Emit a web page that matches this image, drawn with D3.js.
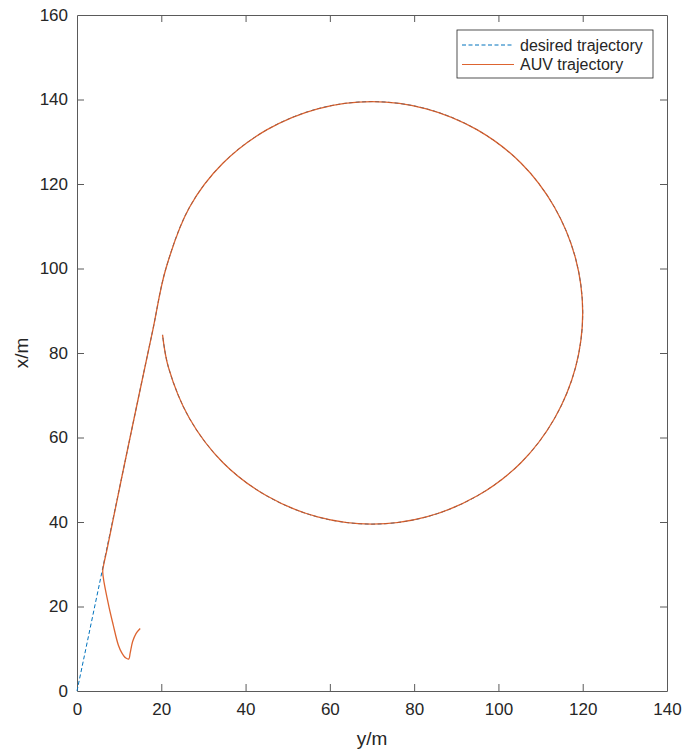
<!DOCTYPE html>
<html>
<head>
<meta charset="utf-8">
<script src="https://cdn.jsdelivr.net/npm/d3@7"></script>
<style>
  body { margin: 0; background: #fff; }
  text { font-family: "Liberation Sans", Arial, sans-serif; fill: #262626; }
</style>
</head>
<body>
<div id="chart"></div>
<script>
// horizontal axis is "y/m", vertical axis is "x/m"
var yTicks = [0, 20, 40, 60, 80, 100, 120, 140];
var xTicks = [0, 20, 40, 60, 80, 100, 120, 140, 160];

// desired trajectory (dashed): straight run then the circle
var desiredY = [0, 6.3, 10.5, 14.7, 18.0, 21.1, 26.7, 34.6, 45.0, 57.1, 70.0, 82.9, 95.0, 105.4, 113.3, 118.3, 120.0,
                118.3, 113.3, 105.4, 95.0, 82.9, 70.0, 57.1, 45.0, 34.6, 26.7, 21.7, 20.3];
var desiredX = [0, 30, 50, 70, 85.5, 100.0, 114.5, 124.9, 132.8, 137.8, 139.5, 137.8, 132.8, 124.9, 114.5, 102.4, 89.5,
                76.6, 64.5, 54.1, 46.2, 41.2, 39.5, 41.2, 46.2, 54.1, 64.5, 76.6, 84.3];

// AUV trajectory (solid)
var auvY = [15.0, 14.0, 13.2, 12.6, 12.3, 11.6, 10.6, 9.8, 8.6, 7.4, 6.1, 6.4, 7.1, 10.5, 14.7, 18.0, 21.1,
            26.7, 34.6, 45.0, 57.1, 70.0, 82.9, 95.0, 105.4, 113.3, 118.3, 120.0,
            118.3, 113.3, 105.4, 95.0, 82.9, 70.0, 57.1, 45.0, 34.6, 26.7, 21.7, 20.3];
var auvX = [14.8, 13.6, 11.7, 8.9, 7.6, 7.8, 9.1, 10.9, 15.6, 20.8, 28.2, 30.2, 33.4, 50, 70, 85.5, 100.0,
            114.5, 124.9, 132.8, 137.8, 139.5, 137.8, 132.8, 124.9, 114.5, 102.4, 89.5,
            76.6, 64.5, 54.1, 46.2, 41.2, 39.5, 41.2, 46.2, 54.1, 64.5, 76.6, 84.3];

var seriesNames = ["desired trajectory", "AUV trajectory"];
var seriesColors = ["#0072BD", "#D95319"];

var W = 685, H = 753;
var margin = {top: 15, right: 18, bottom: 62, left: 77};
var width = W - margin.left - margin.right,
    height = H - margin.top - margin.bottom;

var svg = d3.select("#chart").append("svg")
    .attr("width", W)
    .attr("height", H);

svg.append("rect").attr("width", W).attr("height", H).attr("fill", "#fff");

var g = svg.append("g")
    .attr("transform", `translate(${margin.left},${margin.top})`);

var x = d3.scaleLinear().domain([0, 140]).range([0, width]);
var y = d3.scaleLinear().domain([0, 160]).range([height, 0]);

var axisColor = "#5a5a5a";
var tickLen = 7;

// bottom / top axes
var bottomAxis = g.append("g")
    .attr("transform", `translate(0,${height})`)
    .call(d3.axisBottom(x).tickValues(yTicks).tickSize(-tickLen).tickSizeOuter(0).tickPadding(12));
var topAxis = g.append("g")
    .call(d3.axisTop(x).tickValues(yTicks).tickSize(-tickLen).tickSizeOuter(0).tickFormat(""));
var leftAxis = g.append("g")
    .call(d3.axisLeft(y).tickValues(xTicks).tickSize(-tickLen).tickSizeOuter(0).tickPadding(9));
var rightAxis = g.append("g")
    .attr("transform", `translate(${width},0)`)
    .call(d3.axisRight(y).tickValues(xTicks).tickSize(-tickLen).tickSizeOuter(0).tickFormat(""));

[bottomAxis, topAxis, leftAxis, rightAxis].forEach(function(a) {
  a.selectAll("path").attr("stroke", axisColor);
  a.selectAll("line").attr("stroke", axisColor);
  a.selectAll("text").attr("font-size", 17).attr("fill", "#262626")
    .attr("font-family", "'Liberation Sans', Arial, sans-serif");
});

// keep corner ticks from doubling up
bottomAxis.selectAll(".tick").filter(d => d === 0 || d === 140).select("line").remove();
topAxis.selectAll(".tick").filter(d => d === 0 || d === 140).select("line").remove();
leftAxis.selectAll(".tick").filter(d => d === 0 || d === 160).select("line").remove();
rightAxis.selectAll(".tick").filter(d => d === 0 || d === 160).select("line").remove();

// lines
var line = d3.line()
    .x(d => x(d[0]))
    .y(d => y(d[1]))
    .curve(d3.curveCatmullRom.alpha(0.5));

var desired = desiredY.map((v, i) => [v, desiredX[i]]);
var auv = auvY.map((v, i) => [v, auvX[i]]);

g.append("path")
    .datum(desired)
    .attr("fill", "none")
    .attr("stroke", seriesColors[0])
    .attr("stroke-width", 1)
    .attr("stroke-dasharray", "4,2.5")
    .attr("d", line);

g.append("path")
    .datum(auv)
    .attr("fill", "none")
    .attr("stroke", seriesColors[1])
    .attr("stroke-opacity", 0.9)
    .attr("stroke-width", 1.3)
    .attr("d", line);

// axis labels
svg.append("text")
    .attr("x", margin.left + width / 2)
    .attr("y", 745)
    .attr("text-anchor", "middle")
    .attr("font-size", 19)
    .text("y/m");

svg.append("text")
    .attr("transform", `translate(28,${margin.top + height / 2}) rotate(-90)`)
    .attr("text-anchor", "middle")
    .attr("font-size", 19)
    .text("x/m");

// legend
var legend = svg.append("g")
    .attr("transform", "translate(457,30)");

legend.append("rect")
    .attr("width", 196)
    .attr("height", 48)
    .attr("fill", "#fff")
    .attr("stroke", "#262626")
    .attr("stroke-width", 0.8);

var items = legend.selectAll("g.item")
    .data(seriesNames)
    .join("g")
    .attr("class", "item")
    .attr("transform", (d, i) => `translate(0,${15 + i * 19.5})`);

items.append("line")
    .attr("x1", 5).attr("x2", 57)
    .attr("y1", 0).attr("y2", 0)
    .attr("stroke", (d, i) => seriesColors[i])
    .attr("stroke-opacity", (d, i) => i === 1 ? 0.9 : 1)
    .attr("stroke-width", 1)
    .attr("stroke-dasharray", (d, i) => i === 0 ? "4,2.5" : null);

items.append("text")
    .attr("x", 63)
    .attr("y", 0)
    .attr("dy", "0.35em")
    .attr("font-size", 16)
    .text(d => d);
</script>
</body>
</html>
